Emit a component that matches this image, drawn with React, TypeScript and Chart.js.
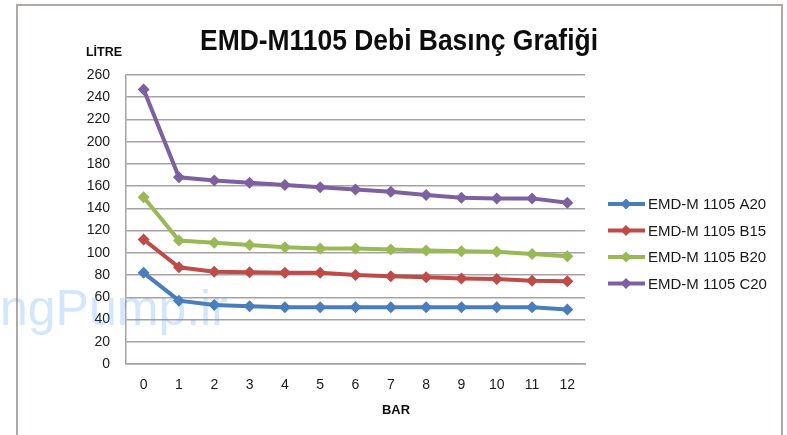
import React, { useEffect, useRef } from 'react';
import { Chart, registerables } from 'chart.js';

Chart.register(...registerables);

// ---- data ----
const categories = ['0', '1', '2', '3', '4', '5', '6', '7', '8', '9', '10', '11', '12'];
const seriesNames = ['EMD-M 1105 A20', 'EMD-M 1105 B15', 'EMD-M 1105 B20', 'EMD-M 1105 C20'];
const a20 = [82, 57, 53, 52, 51, 51, 51, 51, 51, 51, 51, 51, 49];
const b15 = [112, 87, 83, 82.5, 82, 82, 80, 79, 78, 77, 76.5, 75, 74.5];
const b20 = [150, 111, 109, 107, 105, 104, 104, 103, 102, 101.5, 101, 99, 97];
const c20 = [247, 168, 165, 163, 161, 159, 157, 155, 152, 149.5, 149, 149, 145];
const seriesColors = ['#4a7ebb', '#be4b48', '#98b954', '#7d60a0'];
const yMin = 0;
const yMax = 260;
const yStep = 20;
const titleText = 'EMD-M1105 Debi Basınç Grafiği';
const yAxisTitle = 'LİTRE';
const xAxisTitle = 'BAR';
const watermarkText = 'ngPump.ir';

const FONT = "'Liberation Sans', Arial, sans-serif";

const decorPlugin = {
  id: 'decor',
  beforeDraw(chart: any) {
    const ctx = chart.ctx;
    ctx.save();
    ctx.fillStyle = '#ffffff';
    ctx.fillRect(0, 0, chart.width, chart.height);
    ctx.strokeStyle = '#b3a6a6';
    ctx.lineWidth = 2;
    ctx.strokeRect(17, 5, 765, 440);
    ctx.restore();
  },
  afterDraw(chart: any) {
    const ctx = chart.ctx;
    ctx.save();
    // title
    ctx.fillStyle = '#0d0d0d';
    ctx.font = `bold 29px ${FONT}`;
    ctx.textAlign = 'center';
    ctx.textBaseline = 'alphabetic';
    ctx.fillText(titleText, 399, 50, 398);
    // axis titles
    ctx.font = `bold 13px ${FONT}`;
    ctx.textAlign = 'left';
    ctx.fillText(yAxisTitle, 86, 56, 36);
    ctx.fillText(xAxisTitle, 382, 414, 28);
    // legend
    chart.data.datasets.forEach((ds: any, i: number) => {
      const y = 204 + 26.5 * i;
      ctx.strokeStyle = ds.borderColor;
      ctx.lineWidth = 4;
      ctx.beginPath();
      ctx.moveTo(608, y);
      ctx.lineTo(645, y);
      ctx.stroke();
      ctx.fillStyle = ds.borderColor;
      ctx.beginPath();
      ctx.moveTo(626, y - 5.5);
      ctx.lineTo(631.5, y);
      ctx.lineTo(626, y + 5.5);
      ctx.lineTo(620.5, y);
      ctx.closePath();
      ctx.fill();
      ctx.fillStyle = '#1a1a1a';
      ctx.font = `15px ${FONT}`;
      ctx.textBaseline = 'middle';
      ctx.fillText(ds.label, 648, y + 1);
    });
    // watermark
    ctx.fillStyle = 'rgba(60,140,240,0.22)';
    ctx.font = `50px ${FONT}`;
    ctx.textBaseline = 'alphabetic';
    ctx.fillText(watermarkText, 0, 325);
    ctx.restore();
  },
};

export default function App() {
  const canvasRef = useRef<HTMLCanvasElement | null>(null);

  useEffect(() => {
    if (!canvasRef.current) return;
    const series = [a20, b15, b20, c20];
    const chart = new Chart(canvasRef.current, {
      type: 'line',
      data: {
        labels: categories,
        datasets: series.map((vals, i) => ({
          label: seriesNames[i],
          data: vals,
          borderColor: seriesColors[i],
          backgroundColor: seriesColors[i],
          borderWidth: 4,
          pointStyle: 'rectRot',
          pointRadius: 6,
          pointBorderWidth: 0,
          tension: 0,
        })),
      },
      options: {
        animation: false,
        responsive: false,
        maintainAspectRatio: false,
        layout: { padding: { left: 0, top: 75, right: 202, bottom: 0 } },
        plugins: {
          legend: { display: false },
          title: { display: false },
          tooltip: { enabled: false },
        },
        scales: {
          x: {
            type: 'category',
            offset: true,
            grid: { display: false, drawTicks: false },
            border: { display: true, color: '#a9a1a1', width: 1.5 },
            ticks: {
              padding: 13,
              color: '#1a1a1a',
              font: { family: FONT, size: 14 },
              maxRotation: 0,
              autoSkip: false,
            },
            afterFit: (scale: any) => {
              scale.height = 71;
            },
          },
          y: {
            min: yMin,
            max: yMax,
            grid: { color: '#a9a1a1', lineWidth: 1.5, drawTicks: false },
            border: { display: true, color: '#a9a1a1', width: 1.5 },
            ticks: {
              stepSize: yStep,
              padding: 16,
              color: '#1a1a1a',
              font: { family: FONT, size: 14 },
            },
            afterFit: (scale: any) => {
              scale.width = 126;
            },
          },
        },
      },
      plugins: [decorPlugin],
    });
    return () => chart.destroy();
  }, []);

  return (
    <div style={{ position: 'absolute', left: 0, top: 0, width: 787, height: 435, background: '#fff' }}>
      <canvas ref={canvasRef} width={787} height={435} style={{ width: 787, height: 435, display: 'block' }} />
    </div>
  );
}
